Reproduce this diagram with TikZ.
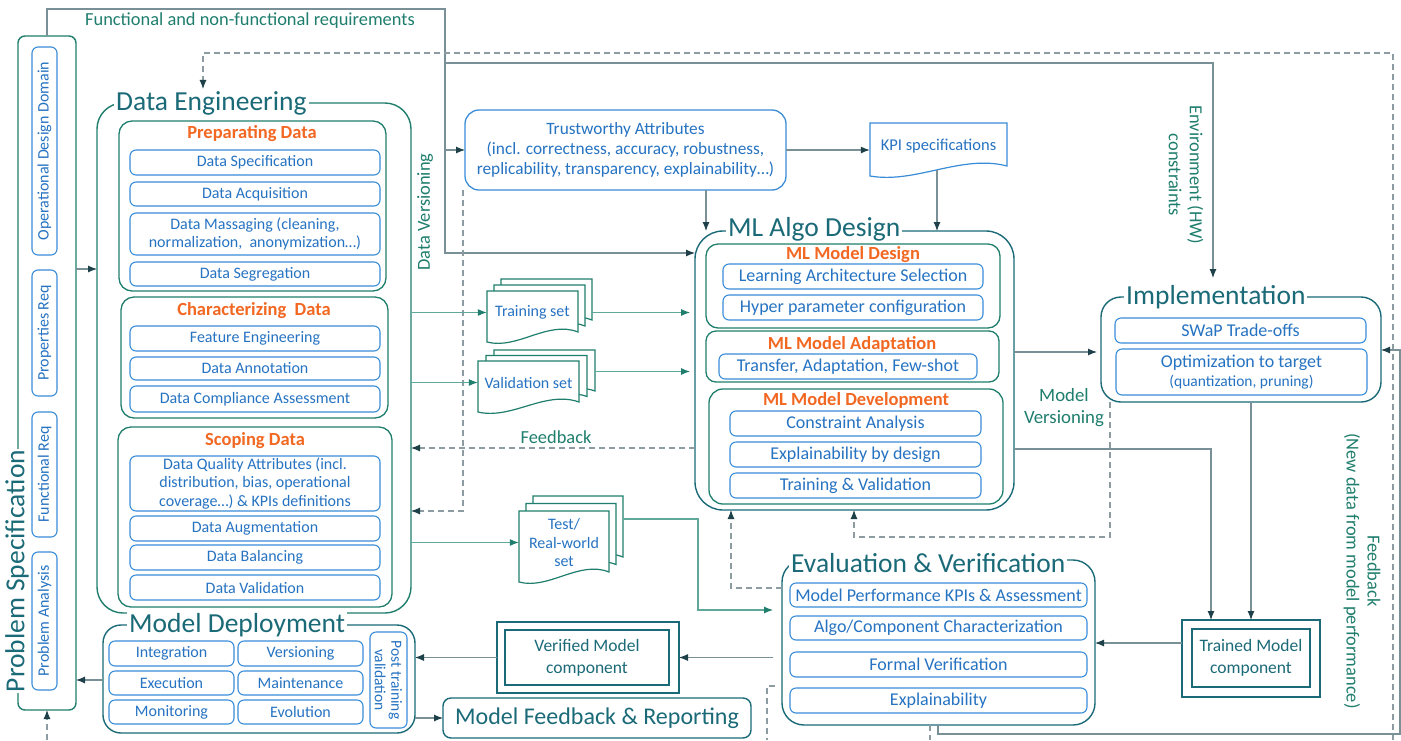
\documentclass[tikz,border=0pt]{standalone}
\usepackage{fontspec}
\setmainfont{Carlito}
\usetikzlibrary{arrows.meta}
\definecolor{cTeal}{HTML}{1B6A78}
\definecolor{cGreen}{HTML}{1F7E6D}
\definecolor{cBlue}{HTML}{3A8DD8}
\definecolor{cBlueTxt}{HTML}{2673C2}
\definecolor{cOrange}{HTML}{F26822}
\definecolor{cGray}{HTML}{7A9097}
\definecolor{cDark}{HTML}{1D4049}
\definecolor{cDash}{HTML}{8C9CA1}
\definecolor{cGLine}{HTML}{5FA89A}

\newcommand\bx[7]{\node[#6,minimum width={#4-#2},minimum height={#5-#3}] (#1) at ({(#2+#4)/2},{(#3+#5)/2}) {#7};}
\newcommand\rbx[7]{\node[#6,minimum width={#5-#3},minimum height={#4-#2}] (#1) at ({(#2+#4)/2},{(#3+#5)/2}) {#7};}
\newcommand\docpage[5]{\draw[#5] ({#1},{#2}) -- ({#3},{#2}) -- ({#3},{(#4)-10}) .. controls ({(#1)+2*((#3)-(#1))/3},{(#4)-22}) and ({(#1)+((#3)-(#1))/3},{(#4)+8}) .. ({#1},{#4}) -- cycle;}
\newcommand\docstack[8]{%
 \docpage{#2+2*#6}{#3-2*#7}{#4+2*#6}{#5-2*#7}{doc}
 \docpage{#2+#6}{#3-#7}{#4+#6}{#5-#7}{doc}
 \docpage{#2}{#3}{#4}{#5}{doc}
 \node[inner sep=0pt,minimum width={#4-#2},minimum height={#5-#3-8},text=cBlueTxt,align=center,font=\fontsize{16}{18.5}\selectfont] (#1) at ({(#2+#4)/2},{(#3+#5-8)/2}) {#8};
 \node[inner sep=0pt,minimum width={#4-#2},minimum height={#5-#3-8}] (#1B) at ({(#2+#4)/2+2*#6},{(#3+#5-8)/2-2*#7}) {};}

\begin{document}
\begin{tikzpicture}[x=1pt,y=-1pt,
 item/.style={draw=cBlue,line width=1.1pt,rounded corners=6pt,text=cBlueTxt,font=\fontsize{16}{18.5}\selectfont,align=center,inner sep=1pt,outer sep=0pt},
 bigitem/.style={item,font=\fontsize{18}{20}\selectfont},
 grp/.style={draw=cGreen,line width=1.3pt,rounded corners=13pt,outer sep=0pt},
 outerbox/.style={draw=cTeal,line width=1.4pt,rounded corners=24pt,outer sep=0pt},
 ttl/.style={fill=white,text=cTeal,font=\fontsize{27.5}{30}\selectfont,inner sep=2pt,anchor=west},
 gttl/.style={text=cOrange,font=\bfseries\fontsize{18.5}{20}\selectfont,inner sep=0pt},
 lbl/.style={text=cGreen,font=\fontsize{18.4}{21}\selectfont,align=center,inner sep=1pt},
 conn/.style={draw=cGray,line width=1.1pt,-{Latex[length=9pt,width=7pt,color=cDark]}},
 gconn/.style={draw=cGLine,line width=1.1pt,-{Latex[length=9pt,width=7pt,color=cGreen]}},
 dconn/.style={draw=cDash,line width=1.1pt,dash pattern=on 6pt off 4pt,-{Latex[length=9pt,width=7pt,color=cDark]}},
 dline/.style={draw=cDash,line width=1.1pt,dash pattern=on 6pt off 4pt},
 dbl/.style={draw=cTeal,line width=1.4pt,outer sep=0pt},
 doc/.style={draw=cGreen,line width=1.2pt,fill=white}]
\useasboundingbox[fill=white] (0,0) rectangle (1401,740);

% ---------- Problem Specification ----------
\bx{PS}{18}{36}{76}{710}{draw=cGreen,line width=1.4pt,rounded corners=7pt,outer sep=0pt}{}
\node[ttl,anchor=center,rotate=90,inner sep=1pt] (PSt) at (17,571) {Problem Specification};
\rbx{ODD}{32}{47}{57}{255}{item,rotate=90}{Operational Design Domain}
\rbx{PRQ}{32}{270}{57}{396}{item,rotate=90}{Properties Req}
\rbx{FRQ}{32}{412}{57}{537}{item,rotate=90}{Functional Req}
\rbx{PAN}{32}{552}{57}{690}{item,rotate=90}{Problem Analysis}

% ---------- Data Engineering ----------
\bx{DE}{97}{103}{411}{613}{outerbox,draw=cGreen,rounded corners=26pt}{}
\node[ttl] (DEt) at (114,103) {Data Engineering};
\bx{PREP}{119}{121}{386}{291}{grp}{}
\node[gttl] (PREPt) at (252,134) {Preparating Data};
\bx{DSPEC}{130}{150}{380}{175}{item}{Data Specification}
\bx{DACQ}{130}{182}{380}{206}{item}{Data Acquisition}
\bx{DMASS}{130}{213}{380}{255}{item}{Data Massaging (cleaning,\\normalization,~ anonymization…)}
\bx{DSEG}{130}{262}{380}{286}{item}{Data Segregation}
\bx{CHAR}{121}{297}{388}{418}{grp}{}
\node[gttl] (CHARt) at (254,311) {Characterizing~ Data};
\bx{FENG}{130}{326}{380}{351}{item}{Feature Engineering}
\bx{DANN}{130}{357}{380}{380}{item}{Data Annotation}
\bx{DCA}{130}{386}{380}{412}{item}{Data Compliance Assessment}
\bx{SCOPE}{118}{427}{392}{607}{grp}{}
\node[gttl] (SCOPEt) at (255,441) {Scoping Data};
\bx{DQA}{130}{456}{380}{511}{item}{Data Quality Attributes (incl.\\distribution, bias, operational\\coverage…) \& KPIs definitions}
\bx{DAUG}{130}{516}{380}{541}{item}{Data Augmentation}
\bx{DBAL}{130}{545}{380}{570}{item}{Data Balancing}
\bx{DVAL}{130}{575}{380}{600}{item}{Data Validation}

% ---------- Model Deployment ----------
\bx{MD}{103}{625}{415}{733}{outerbox,rounded corners=18pt}{}
\node[ttl] (MDt) at (127,625) {Model Deployment};
\bx{INTEG}{109}{641}{234}{666}{item}{Integration}
\bx{VERS}{238}{641}{363}{666}{item}{Versioning}
\bx{EXEC}{109}{671}{234}{695}{item}{Execution}
\bx{MAINT}{238}{671}{363}{695}{item}{Maintenance}
\bx{MONIT}{109}{700}{234}{724}{item}{Monitoring}
\bx{EVOL}{238}{700}{363}{724}{item}{Evolution}
\rbx{PTV}{370}{632}{407}{728}{item,rotate=-90,font=\fontsize{15.5}{16.5}\selectfont}{Post training\\validation}

% ---------- Trustworthy / KPI ----------
\bx{TA}{465}{110}{786}{190}{item,rounded corners=14pt,line width=1.3pt,font=\fontsize{17.3}{20}\selectfont}{Trustworthy Attributes\\(incl. correctness, accuracy, robustness,\\replicability, transparency, explainability…)}
\docpage{870}{123}{1007}{176}{draw=cBlue,line width=1.2pt,fill=white}
\bx{KPI}{870}{123}{1007}{170}{text=cBlueTxt,font=\fontsize{16.5}{18}\selectfont,inner sep=0pt}{KPI specifications}

% ---------- data sets ----------
\docstack{Tr}{487}{291}{578}{342}{7}{6}{Training set}
\docstack{Va}{478}{361}{579}{412}{8}{5.5}{Validation set}
\docstack{Te}{519}{511}{609}{582}{7}{7.5}{Test/\\Real-world\\set}

% ---------- ML Algo Design ----------
\bx{MLA}{695}{231}{1014}{510}{outerbox,rounded corners=28pt}{}
\node[ttl] (MLAt) at (726,229) {ML Algo Design};
\bx{MMD}{706}{244}{1000}{328}{grp,rounded corners=12pt}{}
\node[gttl] (MMDt) at (853,255) {ML Model Design};
\bx{LAS}{723}{264}{983}{289}{bigitem}{Learning Architecture Selection}
\bx{HPC}{723}{295}{983}{320}{bigitem}{Hyper parameter configuration}
\bx{MMA}{706}{331}{999}{382}{grp,rounded corners=10pt}{}
\node[gttl] (MMAt) at (852,344) {ML Model Adaptation};
\bx{TAF}{719}{354}{977}{379}{bigitem}{Transfer, Adaptation, Few-shot}
\bx{MMDV}{709}{389}{1003}{504}{grp,rounded corners=14pt}{}
\node[gttl] (MMDVt) at (856,400) {ML Model Development};
\bx{CA}{730}{411}{981}{436}{bigitem}{Constraint Analysis}
\bx{EBD}{730}{442}{981}{467}{bigitem}{Explainability by design}
\bx{TV}{730}{473}{981}{498}{bigitem}{Training \& Validation}

% ---------- Implementation ----------
\bx{Impl}{1101}{297}{1381}{402}{outerbox,rounded corners=20pt}{}
\node[ttl] (Implt) at (1124,297) {Implementation};
\bx{SWAP}{1115}{318}{1366}{343}{bigitem}{SWaP Trade-offs}
\bx{OPT}{1116}{349}{1367}{395}{bigitem}{Optimization to target\\[-1pt]{\fontsize{15.5}{16}\selectfont (quantization, pruning)}}

% ---------- Evaluation & Verification ----------
\bx{EV}{782}{560}{1095}{725}{outerbox,rounded corners=22pt}{}
\node[ttl] (EVt) at (789,563) {Evaluation \& Verification};
\bx{MPK}{790}{583}{1087}{607}{bigitem}{Model Performance KPIs \& Assessment}
\bx{ACC}{790}{616}{1087}{640}{bigitem}{Algo/Component Characterization}
\bx{FV}{790}{652}{1087}{677}{bigitem}{Formal Verification}
\bx{EXPL}{790}{688}{1087}{713}{bigitem}{Explainability}

% ---------- component boxes ----------
\bx{Ver}{497}{622}{679}{693}{dbl}{}
\bx{VerI}{505}{630}{669}{685}{dbl,text=cTeal,align=center,font=\fontsize{17.5}{22}\selectfont}{Verified Model\\component}
\bx{TM}{1182}{620}{1320}{697}{dbl}{}
\bx{TMI}{1192}{629}{1310}{687}{dbl,text=cTeal,align=center,font=\fontsize{17.5}{22}\selectfont}{Trained Model\\component}
\bx{MFR}{443}{698}{751}{738}{dbl,rounded corners=8pt,text=cTeal,font=\fontsize{24}{28}\selectfont}{Model Feedback \& Reporting}

% ---------- labels ----------
\node[lbl] (fnl) at (250,21) {Functional and non-functional requirements};
\node[lbl,rotate=90] (dvl) at (425,212) {Data Versioning};
\node[lbl] (fbl) at (556,437) {Feedback};
\node[lbl,font=\fontsize{18.8}{22}\selectfont] (mvl) at (1064,408) {Model\\Versioning};
\node[lbl,rotate=-90] (envl) at (1186,175) {Environment (HW)\\constraints};
\node[lbl,rotate=-90] (fbnl) at (1362,571) {Feedback\\(New data from model performance)};

% ---------- coordinates ----------
\coordinate (fnB) at (445,9);
\coordinate (fnC) at (445,253);
\coordinate (fnT) at (445,150);
\coordinate (fnE) at (445,63);
\coordinate (envE) at (1213,278);
\coordinate (dl1) at (1393,740);
\coordinate (dl2) at (1393,53);
\coordinate (dl3) at (203,53);
\coordinate (psb) at (47,740);
\coordinate (evd1) at (775,686);
\coordinate (evd2) at (767,740);
\coordinate (evb) at (930,740);
\coordinate (fr1) at (938,734);
\coordinate (fr2) at (1400,734);
\coordinate (fr3) at (1400,350);
\coordinate (x706) at (706,0);
\coordinate (x937) at (937,0);
\coordinate (y448) at (0,448);
\coordinate (dv1) at (463,190);
\coordinate (dv2) at (463,511);
\coordinate (teo) at (623,519);
\coordinate (tec) at (698,610);
\coordinate (e1) at (731,588);
\coordinate (i1) at (1110,537);
\coordinate (i2) at (854,537);
\coordinate (y352) at (0,352);
\coordinate (m1) at (1211,449);
\coordinate (y643) at (0,643);
\coordinate (y680) at (0,680);
\coordinate (y269) at (0,269);

% ---------- connectors ----------
\draw[conn] (PS.north) |- (fnB) -- (fnC) -- (fnC -| MLA.west);
\draw[conn] (fnT) -- (TA.west);
\draw[conn] (fnE) -| (envE);
\draw[dconn] (dl1) -- (dl2) -- (dl3) -- (dl3 |- DEt.north);
\draw[dconn] (psb) -- (PS.south);
\draw[dline] (evd1) -| (evd2);
\draw[dline] (evb |- EV.south) -- (evb);
\draw[conn] (fr1 |- EV.south) -- (fr1) -- (fr2) -- (fr3) -- (fr3 -| Impl.east);
\draw[conn] (TA.east) -- (TA.east -| KPI.west);
\draw[conn] (x706 |- TA.south) -- (x706 |- MLA.north);
\draw[conn] (x937 |- KPI.south) -- (x937 |- MLA.north);
\draw[dconn] (MLA.west |- y448) -- (DE.east |- y448);
\draw[dconn] (dv1) -- (dv2) -- (dv2 -| DE.east);
\draw[gconn] (DE.east |- Tr.west) -- (Tr.west);
\draw[gconn,shorten >=5pt] (TrB.east |- Tr.west) -- (MLA.west |- Tr.west);
\draw[gconn] (DE.east |- Va.west) -- (Va.west);
\draw[gconn,shorten >=5pt] (VaB.east) -- (MLA.west |- VaB.east);
\draw[gconn] (DE.east |- Te.west) -- (Te.west);
\draw[gconn,shorten >=9pt] (teo) -| (tec) -- (tec -| EV.west);
\draw[dconn] (EV.west |- e1) -| (e1 |- MLA.south);
\draw[dconn] (i1 |- Impl.south) -- (i1) -- (i2) -- (i2 |- MLA.south);
\draw[conn,shorten >=4pt] (MLA.east |- y352) -- (Impl.west |- y352);
\draw[conn] (MLA.east |- m1) -| (m1 |- TM.north);
\draw[conn] (TM.north |- Impl.south) -- (TM.north);
\draw[conn] (TM.west |- y643) -- (EV.east |- y643);
\draw[conn,shorten <=9pt] (EV.west |- Ver.east) -- (Ver.east);
\draw[conn] (Ver.west) -- (MD.east |- Ver.west);
\draw[conn] (MD.east |- MFR.west) -- (MFR.west);
\draw[conn] (MD.west |- y680) -- (PS.east |- y680);
\draw[conn] (PS.east |- y269) -- (DE.west |- y269);
\end{tikzpicture}
\end{document}
